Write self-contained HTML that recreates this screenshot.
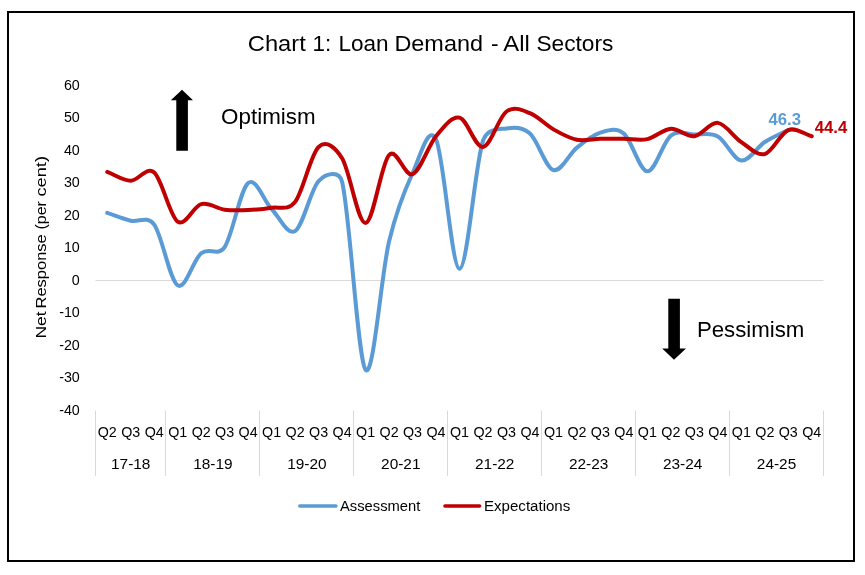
<!DOCTYPE html>
<html lang="en"><head><meta charset="utf-8"><title>Chart 1: Loan Demand - All Sectors</title>
<style>html,body{margin:0;padding:0;background:#fff}svg{display:block}text{font-family:"Liberation Sans",sans-serif;fill:#000}</style></head><body>
<svg width="865" height="575" viewBox="0 0 865 575">
<rect x="0" y="0" width="865" height="575" fill="#fff"/>
<rect x="8" y="12" width="846" height="549" fill="#fff" stroke="#000" stroke-width="2"/>
<text y="50.6" font-size="21.4"><tspan x="247.8" textLength="58.0" lengthAdjust="spacingAndGlyphs">Chart</tspan> <tspan x="312.5" textLength="18.7" lengthAdjust="spacingAndGlyphs">1:</tspan> <tspan x="338.4" textLength="50.2" lengthAdjust="spacingAndGlyphs">Loan</tspan> <tspan x="394.4" textLength="88.6" lengthAdjust="spacingAndGlyphs">Demand</tspan> <tspan x="491.1" textLength="7.6" lengthAdjust="spacingAndGlyphs">-</tspan> <tspan x="503.3" textLength="26.5" lengthAdjust="spacingAndGlyphs">All</tspan> <tspan x="536.4" textLength="77.0" lengthAdjust="spacingAndGlyphs">Sectors</tspan></text>
<text x="63.89" y="89.95" font-size="15.3" textLength="15.91" lengthAdjust="spacingAndGlyphs">60</text>
<text x="63.89" y="122.45" font-size="15.3" textLength="15.91" lengthAdjust="spacingAndGlyphs">50</text>
<text x="63.89" y="154.95" font-size="15.3" textLength="15.91" lengthAdjust="spacingAndGlyphs">40</text>
<text x="63.89" y="187.45" font-size="15.3" textLength="15.91" lengthAdjust="spacingAndGlyphs">30</text>
<text x="63.89" y="219.95" font-size="15.3" textLength="15.91" lengthAdjust="spacingAndGlyphs">20</text>
<text x="63.89" y="252.45" font-size="15.3" textLength="15.91" lengthAdjust="spacingAndGlyphs">10</text>
<text x="71.85" y="284.95" font-size="15.3" textLength="7.95" lengthAdjust="spacingAndGlyphs">0</text>
<text x="59.13" y="317.45" font-size="15.3" textLength="20.67" lengthAdjust="spacingAndGlyphs">-10</text>
<text x="59.13" y="349.95" font-size="15.3" textLength="20.67" lengthAdjust="spacingAndGlyphs">-20</text>
<text x="59.13" y="382.45" font-size="15.3" textLength="20.67" lengthAdjust="spacingAndGlyphs">-30</text>
<text x="59.13" y="414.95" font-size="15.3" textLength="20.67" lengthAdjust="spacingAndGlyphs">-40</text>
<text transform="translate(46.3,337.8) rotate(-90)" font-size="15.3"><tspan x="-0.8" textLength="27.1" lengthAdjust="spacingAndGlyphs">Net</tspan> <tspan x="29.4" textLength="74.1" lengthAdjust="spacingAndGlyphs">Response</tspan> <tspan x="108.3" textLength="28.3" lengthAdjust="spacingAndGlyphs">(per</tspan> <tspan x="141.3" textLength="40.5" lengthAdjust="spacingAndGlyphs">cent)</tspan></text>
<line x1="95.5" y1="280.5" x2="823.5" y2="280.5" stroke="#d9d9d9" stroke-width="1"/>
<line x1="95.5" y1="410.5" x2="95.5" y2="476" stroke="#d9d9d9" stroke-width="1"/>
<line x1="165.5" y1="410.5" x2="165.5" y2="476" stroke="#d9d9d9" stroke-width="1"/>
<line x1="259.5" y1="410.5" x2="259.5" y2="476" stroke="#d9d9d9" stroke-width="1"/>
<line x1="353.5" y1="410.5" x2="353.5" y2="476" stroke="#d9d9d9" stroke-width="1"/>
<line x1="447.5" y1="410.5" x2="447.5" y2="476" stroke="#d9d9d9" stroke-width="1"/>
<line x1="541.5" y1="410.5" x2="541.5" y2="476" stroke="#d9d9d9" stroke-width="1"/>
<line x1="635.5" y1="410.5" x2="635.5" y2="476" stroke="#d9d9d9" stroke-width="1"/>
<line x1="729.5" y1="410.5" x2="729.5" y2="476" stroke="#d9d9d9" stroke-width="1"/>
<line x1="823.5" y1="410.5" x2="823.5" y2="476" stroke="#d9d9d9" stroke-width="1"/>
<text x="97.70" y="436.80" font-size="15.3" textLength="19.08" lengthAdjust="spacingAndGlyphs">Q2</text>
<text x="121.19" y="436.80" font-size="15.3" textLength="19.08" lengthAdjust="spacingAndGlyphs">Q3</text>
<text x="144.67" y="436.80" font-size="15.3" textLength="19.08" lengthAdjust="spacingAndGlyphs">Q4</text>
<text x="168.16" y="436.80" font-size="15.3" textLength="19.08" lengthAdjust="spacingAndGlyphs">Q1</text>
<text x="191.64" y="436.80" font-size="15.3" textLength="19.08" lengthAdjust="spacingAndGlyphs">Q2</text>
<text x="215.12" y="436.80" font-size="15.3" textLength="19.08" lengthAdjust="spacingAndGlyphs">Q3</text>
<text x="238.61" y="436.80" font-size="15.3" textLength="19.08" lengthAdjust="spacingAndGlyphs">Q4</text>
<text x="262.09" y="436.80" font-size="15.3" textLength="19.08" lengthAdjust="spacingAndGlyphs">Q1</text>
<text x="285.57" y="436.80" font-size="15.3" textLength="19.08" lengthAdjust="spacingAndGlyphs">Q2</text>
<text x="309.06" y="436.80" font-size="15.3" textLength="19.08" lengthAdjust="spacingAndGlyphs">Q3</text>
<text x="332.54" y="436.80" font-size="15.3" textLength="19.08" lengthAdjust="spacingAndGlyphs">Q4</text>
<text x="356.03" y="436.80" font-size="15.3" textLength="19.08" lengthAdjust="spacingAndGlyphs">Q1</text>
<text x="379.51" y="436.80" font-size="15.3" textLength="19.08" lengthAdjust="spacingAndGlyphs">Q2</text>
<text x="402.99" y="436.80" font-size="15.3" textLength="19.08" lengthAdjust="spacingAndGlyphs">Q3</text>
<text x="426.48" y="436.80" font-size="15.3" textLength="19.08" lengthAdjust="spacingAndGlyphs">Q4</text>
<text x="449.96" y="436.80" font-size="15.3" textLength="19.08" lengthAdjust="spacingAndGlyphs">Q1</text>
<text x="473.45" y="436.80" font-size="15.3" textLength="19.08" lengthAdjust="spacingAndGlyphs">Q2</text>
<text x="496.93" y="436.80" font-size="15.3" textLength="19.08" lengthAdjust="spacingAndGlyphs">Q3</text>
<text x="520.41" y="436.80" font-size="15.3" textLength="19.08" lengthAdjust="spacingAndGlyphs">Q4</text>
<text x="543.90" y="436.80" font-size="15.3" textLength="19.08" lengthAdjust="spacingAndGlyphs">Q1</text>
<text x="567.38" y="436.80" font-size="15.3" textLength="19.08" lengthAdjust="spacingAndGlyphs">Q2</text>
<text x="590.87" y="436.80" font-size="15.3" textLength="19.08" lengthAdjust="spacingAndGlyphs">Q3</text>
<text x="614.35" y="436.80" font-size="15.3" textLength="19.08" lengthAdjust="spacingAndGlyphs">Q4</text>
<text x="637.83" y="436.80" font-size="15.3" textLength="19.08" lengthAdjust="spacingAndGlyphs">Q1</text>
<text x="661.32" y="436.80" font-size="15.3" textLength="19.08" lengthAdjust="spacingAndGlyphs">Q2</text>
<text x="684.80" y="436.80" font-size="15.3" textLength="19.08" lengthAdjust="spacingAndGlyphs">Q3</text>
<text x="708.28" y="436.80" font-size="15.3" textLength="19.08" lengthAdjust="spacingAndGlyphs">Q4</text>
<text x="731.77" y="436.80" font-size="15.3" textLength="19.08" lengthAdjust="spacingAndGlyphs">Q1</text>
<text x="755.25" y="436.80" font-size="15.3" textLength="19.08" lengthAdjust="spacingAndGlyphs">Q2</text>
<text x="778.74" y="436.80" font-size="15.3" textLength="19.08" lengthAdjust="spacingAndGlyphs">Q3</text>
<text x="802.22" y="436.80" font-size="15.3" textLength="19.08" lengthAdjust="spacingAndGlyphs">Q4</text>
<text x="111.03" y="468.90" font-size="15.3" textLength="39.39" lengthAdjust="spacingAndGlyphs">17-18</text>
<text x="193.23" y="468.90" font-size="15.3" textLength="39.39" lengthAdjust="spacingAndGlyphs">18-19</text>
<text x="287.16" y="468.90" font-size="15.3" textLength="39.39" lengthAdjust="spacingAndGlyphs">19-20</text>
<text x="381.10" y="468.90" font-size="15.3" textLength="39.39" lengthAdjust="spacingAndGlyphs">20-21</text>
<text x="475.03" y="468.90" font-size="15.3" textLength="39.39" lengthAdjust="spacingAndGlyphs">21-22</text>
<text x="568.97" y="468.90" font-size="15.3" textLength="39.39" lengthAdjust="spacingAndGlyphs">22-23</text>
<text x="662.90" y="468.90" font-size="15.3" textLength="39.39" lengthAdjust="spacingAndGlyphs">23-24</text>
<text x="756.84" y="468.90" font-size="15.3" textLength="39.39" lengthAdjust="spacingAndGlyphs">24-25</text>
<path d="M107.24,212.90 C115.07,215.50 122.90,218.75 130.73,220.70 C138.55,222.65 147.22,214.97 154.21,224.60 C162.04,235.38 169.87,280.61 177.69,285.38 C185.52,290.14 193.35,259.59 201.18,253.20 C209.01,246.81 217.91,257.12 224.66,247.03 C232.49,235.33 240.32,189.34 248.15,183.00 C255.97,176.66 263.80,200.98 271.63,209.00 C279.46,217.02 287.28,235.76 295.11,231.10 C302.94,226.44 310.77,189.28 318.60,181.05 C326.42,172.82 339.25,170.30 342.08,181.70 C349.91,213.17 357.74,359.91 365.56,369.88 C373.39,379.84 381.22,274.27 389.05,241.50 C396.88,208.73 404.70,190.26 412.53,173.25 C420.36,156.24 428.19,123.53 436.02,139.45 C443.84,155.38 451.67,268.58 459.50,268.80 C467.33,269.02 475.16,164.15 482.98,140.75 C487.19,128.17 498.64,129.59 506.47,128.40 C514.30,127.21 522.12,126.67 529.95,133.60 C537.78,140.53 545.61,167.67 553.44,170.00 C561.26,172.33 569.09,153.80 576.92,147.58 C584.75,141.35 592.58,134.95 600.40,132.62 C608.23,130.30 616.06,127.15 623.89,133.60 C631.72,140.05 639.54,170.98 647.37,171.30 C655.20,171.62 663.03,141.67 670.85,135.55 C678.68,129.43 686.51,134.41 694.34,134.58 C702.17,134.74 709.99,132.19 717.82,136.53 C725.65,140.86 733.48,159.65 741.31,160.57 C749.13,161.50 756.96,147.14 764.79,142.05 C772.62,136.96 780.45,134.03 788.27,130.03" fill="none" stroke="#5b9bd5" stroke-width="4" stroke-linecap="round" stroke-linejoin="round"/>
<path d="M107.24,171.95 C115.07,174.88 122.90,180.62 130.73,180.73 C138.55,180.83 146.38,165.78 154.21,172.60 C162.04,179.42 169.87,216.42 177.69,221.68 C185.52,226.93 193.35,206.13 201.18,204.12 C209.01,202.12 216.83,208.67 224.66,209.65 C232.49,210.62 240.32,210.30 248.15,209.98 C255.97,209.65 263.80,209.05 271.63,207.70 C279.46,206.35 287.71,211.42 295.11,201.85 C302.94,191.72 310.77,154.18 318.60,146.92 C326.42,139.67 335.23,147.20 342.08,158.30 C349.91,170.98 357.74,223.52 365.56,222.97 C373.39,222.43 381.22,163.18 389.05,155.05 C396.88,146.93 404.70,177.37 412.53,174.22 C420.36,171.08 428.19,145.63 436.02,136.20 C443.84,126.78 451.67,115.89 459.50,117.67 C467.33,119.46 475.16,147.95 482.98,146.92 C490.81,145.90 498.64,117.13 506.47,111.50 C514.30,105.87 522.12,110.15 529.95,113.12 C537.78,116.10 545.61,124.93 553.44,129.38 C561.26,133.82 569.09,138.20 576.92,139.78 C584.75,141.35 592.58,138.96 600.40,138.80 C608.23,138.64 616.06,138.75 623.89,138.80 C631.72,138.85 639.54,140.80 647.37,139.12 C655.20,137.45 663.03,129.21 670.85,128.72 C678.68,128.24 686.51,137.18 694.34,136.20 C702.17,135.23 709.99,121.90 717.82,122.88 C725.65,123.85 733.48,136.85 741.31,142.05 C749.13,147.25 756.96,156.08 764.79,154.07 C772.62,152.07 780.45,133.00 788.27,130.03 C796.10,127.05 803.93,134.14 811.76,136.20" fill="none" stroke="#c00000" stroke-width="4" stroke-linecap="round" stroke-linejoin="round"/>
<text x="768.5" y="124.8" font-size="16" font-weight="bold" style="fill:#5b9bd5" textLength="32.5" lengthAdjust="spacingAndGlyphs">46.3</text>
<text x="814.8" y="132.8" font-size="16" font-weight="bold" style="fill:#c00000" textLength="32.5" lengthAdjust="spacingAndGlyphs">44.4</text>
<polygon points="182,89.8 193,100.3 187.9,100.3 187.9,150.8 176.3,150.8 176.3,100.3 170.8,100.3" fill="#000"/>
<polygon points="674,359.8 662.2,348.4 668.3,348.4 668.3,298.8 679.9,298.8 679.9,348.4 686,348.4" fill="#000"/>
<text x="221.1" y="124.2" font-size="21.4" textLength="94.5" lengthAdjust="spacingAndGlyphs">Optimism</text>
<text x="696.9" y="336.8" font-size="21.4" textLength="107.5" lengthAdjust="spacingAndGlyphs">Pessimism</text>
<line x1="299.8" y1="506" x2="335.9" y2="506" stroke="#5b9bd5" stroke-width="3.6" stroke-linecap="round"/>
<text x="340" y="510.8" font-size="15.3" textLength="80.3" lengthAdjust="spacingAndGlyphs">Assessment</text>
<line x1="445" y1="506" x2="479.6" y2="506" stroke="#c00000" stroke-width="3.6" stroke-linecap="round"/>
<text x="484" y="510.8" font-size="15.3" textLength="86.3" lengthAdjust="spacingAndGlyphs">Expectations</text>
</svg></body></html>
